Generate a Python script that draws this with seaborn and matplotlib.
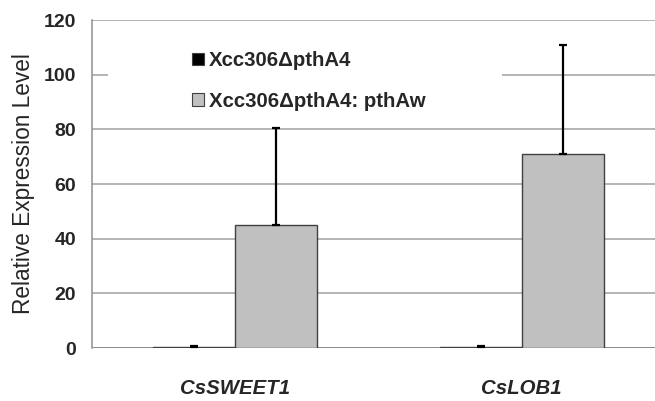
import pandas as pd
import matplotlib.pyplot as plt
import seaborn as sns
from matplotlib.patches import Patch, Rectangle

genes = ['CsSWEET1', 'CsLOB1']
strains = ['Xcc306\u0394pthA4', 'Xcc306\u0394pthA4: pthAw']
mutant_mean = [0.3, 0.3]
mutant_err = [0.3, 0.3]
pthaw_mean = [45.0, 71.0]
pthaw_err = [35.5, 40.0]
bar_colors = ['#000000', '#c0c0c0']
y_ticks = [0, 20, 40, 60, 80, 100, 120]

df = pd.DataFrame({
    'Gene': genes * 2,
    'Strain': [strains[0]] * 2 + [strains[1]] * 2,
    'Level': mutant_mean + pthaw_mean,
    'Err': mutant_err + pthaw_err,
})

sns.set_style('white')
plt.rcParams['font.family'] = ['Liberation Sans', 'DejaVu Sans']

fig = plt.figure(figsize=(6.55, 4.01), dpi=100)
ax = fig.add_axes([0.1405, 0.132, 0.8595, 0.818])

sns.barplot(data=df, x='Gene', y='Level', hue='Strain', hue_order=strains,
            palette=bar_colors, width=0.573, errorbar=None,
            edgecolor='#404040', linewidth=1, legend=False, ax=ax, zorder=3)

# error bars, upper only, placed on the bar centres
for bar, (_, row) in zip(ax.patches, df.iterrows()):
    xc = bar.get_x() + bar.get_width() / 2
    ax.errorbar(xc, row['Level'], yerr=[[0], [row['Err']]], fmt='none',
                ecolor='black', elinewidth=1.6, capsize=2.9, capthick=1.6, zorder=4)

ax.set_ylim(0, 120)
ax.set_xlim(-0.5, 1.465)
ax.set_yticks(y_ticks)
ax.yaxis.grid(True, color='#a0a0a0', linewidth=1.1)
ax.set_axisbelow(True)
for side in ['top', 'right', 'bottom']:
    ax.spines[side].set_visible(False)
ax.spines['left'].set_color('#909090')
ax.spines['left'].set_linewidth(1.1)
ax.axhline(0, color='#808080', linewidth=1.1, zorder=2)

ax.tick_params(axis='y', length=4.5, width=1.1, color='#a0a0a0', direction='out',
               pad=7, labelsize=14)
ax.tick_params(axis='x', length=0, pad=22, labelsize=14.7)
for lbl in ax.get_yticklabels():
    lbl.set_fontweight('bold')
for lbl in ax.get_xticklabels():
    lbl.set_fontweight('bold')
    lbl.set_fontstyle('italic')

ax.set_xlabel('')
ax.set_ylabel('Relative Expression Level', fontsize=16.3, labelpad=6)

# white box behind the legend (hides the grid line there)
ax.add_patch(Rectangle((0.028, 0.726), 0.70, 0.213, transform=ax.transAxes,
                       facecolor='white', edgecolor='none', zorder=1.5))

handles = [Patch(facecolor=c, edgecolor='#404040', linewidth=0.8) for c in bar_colors]
leg = ax.legend(handles, strains, loc='upper left', bbox_to_anchor=(0.178, 0.905),
                frameon=False, borderpad=0, borderaxespad=0,
                handlelength=0.6, handleheight=0.6, handletextpad=0.22,
                labelspacing=1.05, prop={'size': 14.7, 'weight': 'bold'})
leg.set_zorder(5)

fig.savefig('out.png', dpi=100)
